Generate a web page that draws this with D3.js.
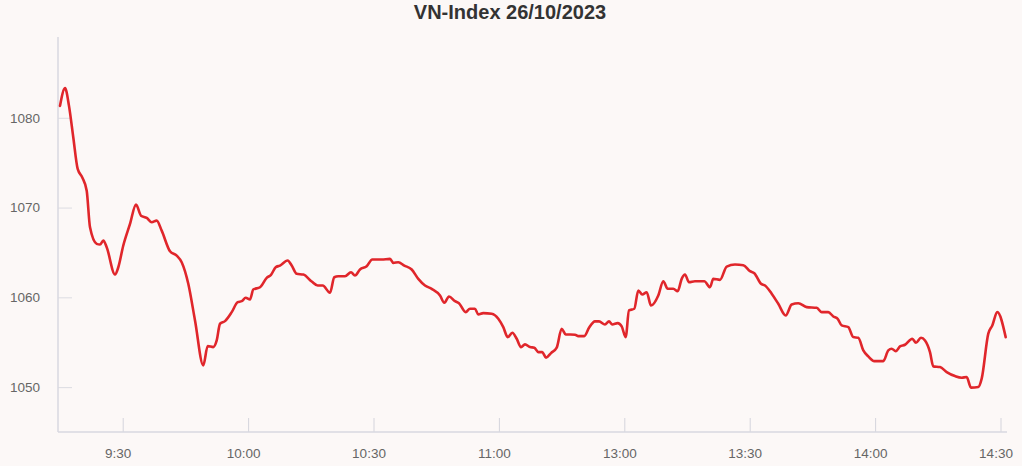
<!DOCTYPE html>
<html>
<head>
<meta charset="utf-8">
<script src="https://cdn.jsdelivr.net/npm/d3@7/dist/d3.min.js"></script>
<style>
  html, body { margin: 0; padding: 0; background: #fcf8f7; }
  svg { display: block; }
</style>
</head>
<body>
<svg id="chart" width="1022" height="466"></svg>
<script>
// Trading minutes elapsed since the 9:15 open (lunch break 11:30-13:00 removed)
const minutes = [0,1.2,2.15,3.18,4.23,5.33,6.39,7.18,8.78,9.57,10.36,11.17,13.16,13.95,15.14,16.75,18.18,19.38,20.74,21.94,23.13,24.33,26.32,27.92,29.11,30.69,32.3,34.28,35.33,36.67,37.49,38.28,39.47,41.08,42.51,43.47,44.43,45.45,
46.24,47.85,49.45,50.48,51.6,52.63,54.47,55.43,56.63,58.21,60.22,61.65,62.85,64.59,65.62,66.58,68.18,69.62,70.57,71.77,73.37,74.71,76.96,78.95,79.74,80.93,82.37,84.14,85.72,87.32,88.92,90.91,
91.94,93.06,94.5,95.45,97.05,98.08,99.28,100.07,101.26,103.28,104.86,106.05,107.11,108.21,109.26,110.29,111.24,112.44,113.47,114.43,115.38,116.27,117.46,118.83,120.02,120.98,123.21,124,125.43,126.56,127.99,128.95,130.38,131.34,132.13,133.42,134.38,135.33,
136.12,137.39,138.35,139.3,140.36,141.39,143.13,144.33,145.38,146.72,147.77,148.73,149.52,150.48,151.91,154.14,155.5,156.29,157.89,159.5,161.48,163.47,165.07,166.1,167.7,168.66,170.26,171.84,173.61,175.05,176.63,178.64,181.03,
182.22,183.8,185,186.05,187.01,188.59,189.78,190.98,192.18,193.37,194.81,196.96,198.16,198.97,199.93,200.96,202.15,203.9,204.78,205.98,206.94,208.13,208.92,210.53,212.13,214.11,215.72,216.91,217.94,219.69,220.5,222.08,223.04,224.23,226.24];

const indexValues = [1081.33,1083.3,1081.33,1077.81,1074.3,1073.36,1071.88,1067.8,1065.96,1065.88,1066.32,1065.58,1062.54,1063.35,1065.77,1068.18,1070.33,1069.1,1068.85,1068.36,1068.55,1067.43,1065.13,1064.65,1063.91,1061.51,1057.43,1052.42,1054.57,1054.46,1055.2,1057.06,1057.35,1058.35,1059.46,1059.57,1059.95,1059.76,
1060.87,1061.13,1062.17,1062.51,1063.35,1063.54,1064.1,1063.54,1062.62,1062.54,1061.76,1061.32,1061.32,1060.51,1062.24,1062.35,1062.35,1062.8,1062.43,1063.1,1063.46,1064.21,1064.21,1064.29,1063.84,1063.91,1063.54,1063.1,1062.06,1061.32,1060.95,1060.21,
1059.39,1060.09,1059.57,1059.35,1058.35,1058.73,1058.73,1058.09,1058.24,1058.17,1057.62,1056.68,1055.57,1056.06,1055.39,1054.46,1054.76,1054.46,1054.39,1053.9,1053.9,1053.28,1053.79,1054.39,1056.5,1055.87,1055.84,1055.68,1055.68,1056.61,1057.32,1057.32,1056.98,1057.32,1056.98,1057.13,1056.76,1055.57,
1058.54,1058.73,1060.76,1060.32,1060.57,1059.09,1060.21,1061.8,1060.95,1060.95,1060.68,1062.06,1062.54,1061.69,1061.8,1061.8,1061.13,1062.06,1061.95,1063.43,1063.65,1063.58,1062.91,1062.69,1061.51,1061.32,1060.4,1059.28,1057.98,1059.21,1059.35,1058.91,1058.84,
1058.35,1058.35,1057.87,1057.61,1056.87,1056.68,1055.57,1055.5,1054.09,1053.42,1052.9,1052.9,1054.09,1054.28,1054.01,1054.53,1054.72,1055.39,1054.95,1055.5,1055.2,1053.9,1052.31,1052.23,1051.68,1051.23,1051.05,1051.12,1049.94,1050.01,1050.94,1055.95,1056.87,1058.35,1055.57];

const xTickMinutes = [15, 45, 75, 105, 135, 165, 195, 225];
const xTickLabels = ["9:30", "10:00", "10:30", "11:00", "13:00", "13:30", "14:00", "14:30"];
const yTicks = [1050, 1060, 1070, 1080];
const title = "VN-Index 26/10/2023";

(function () {
  const svg = d3.select("#chart");
  const mLeft = 58, mRight = 1007, mTop = 37, mBottom = 432;

  const x = d3.scaleLinear().domain([0, 227]).range([60, 60 + 227 * 4.18]);
  const y = d3.scaleLinear().domain([1045, 1089]).range([mBottom, mTop]);

  svg.append("text")
    .attr("x", 510).attr("y", 19)
    .attr("text-anchor", "middle")
    .attr("font-family", "Liberation Sans, Arial, sans-serif")
    .attr("font-weight", "bold")
    .attr("font-size", 20)
    .attr("fill", "#333")
    .text(title);

  // Y axis
  const yAxis = d3.axisLeft(y).tickValues(yTicks).tickSize(0).tickPadding(18).tickFormat(d3.format("d"));
  const gy = svg.append("g").attr("transform", `translate(${mLeft},0)`).call(yAxis);
  gy.select(".domain").remove();
  gy.selectAll("text")
    .attr("font-family", "Liberation Sans, Arial, sans-serif")
    .attr("font-size", 13.5)
    .attr("fill", "#666");
  gy.selectAll(".tick").append("line")
    .attr("x1", 0).attr("x2", 14)
    .attr("stroke", "#dcdce2").attr("stroke-width", 1);

  svg.append("line")
    .attr("x1", mLeft).attr("x2", mLeft).attr("y1", mTop).attr("y2", mBottom)
    .attr("stroke", "#d8d8e0").attr("stroke-width", 1.5);

  // X axis
  const xAxis = d3.axisBottom(x).tickValues(xTickMinutes).tickSize(0).tickPadding(16)
    .tickFormat((d, i) => xTickLabels[i]);
  const gx = svg.append("g").attr("transform", `translate(0,${mBottom})`).call(xAxis);
  gx.select(".domain").remove();
  gx.selectAll("text")
    .attr("font-family", "Liberation Sans, Arial, sans-serif")
    .attr("font-size", 13.5)
    .attr("fill", "#666")
    .attr("dx", -5);
  gx.selectAll(".tick").append("line")
    .attr("y1", 0).attr("y2", -14)
    .attr("stroke", "#d4d4dc").attr("stroke-width", 1);

  svg.append("line")
    .attr("x1", mLeft).attr("x2", mRight).attr("y1", mBottom).attr("y2", mBottom)
    .attr("stroke", "#d8d8e0").attr("stroke-width", 1.5);

  // Line
  const data = minutes.map((m, i) => ({ m, v: indexValues[i] }));
  const line = d3.line().x(d => x(d.m)).y(d => y(d.v)).curve(d3.curveMonotoneX);
  svg.append("path")
    .datum(data)
    .attr("fill", "none")
    .attr("stroke", "#e0262b")
    .attr("stroke-width", 2.6)
    .attr("stroke-linejoin", "round")
    .attr("stroke-linecap", "round")
    .attr("d", line);
})();
</script>
</body>
</html>
